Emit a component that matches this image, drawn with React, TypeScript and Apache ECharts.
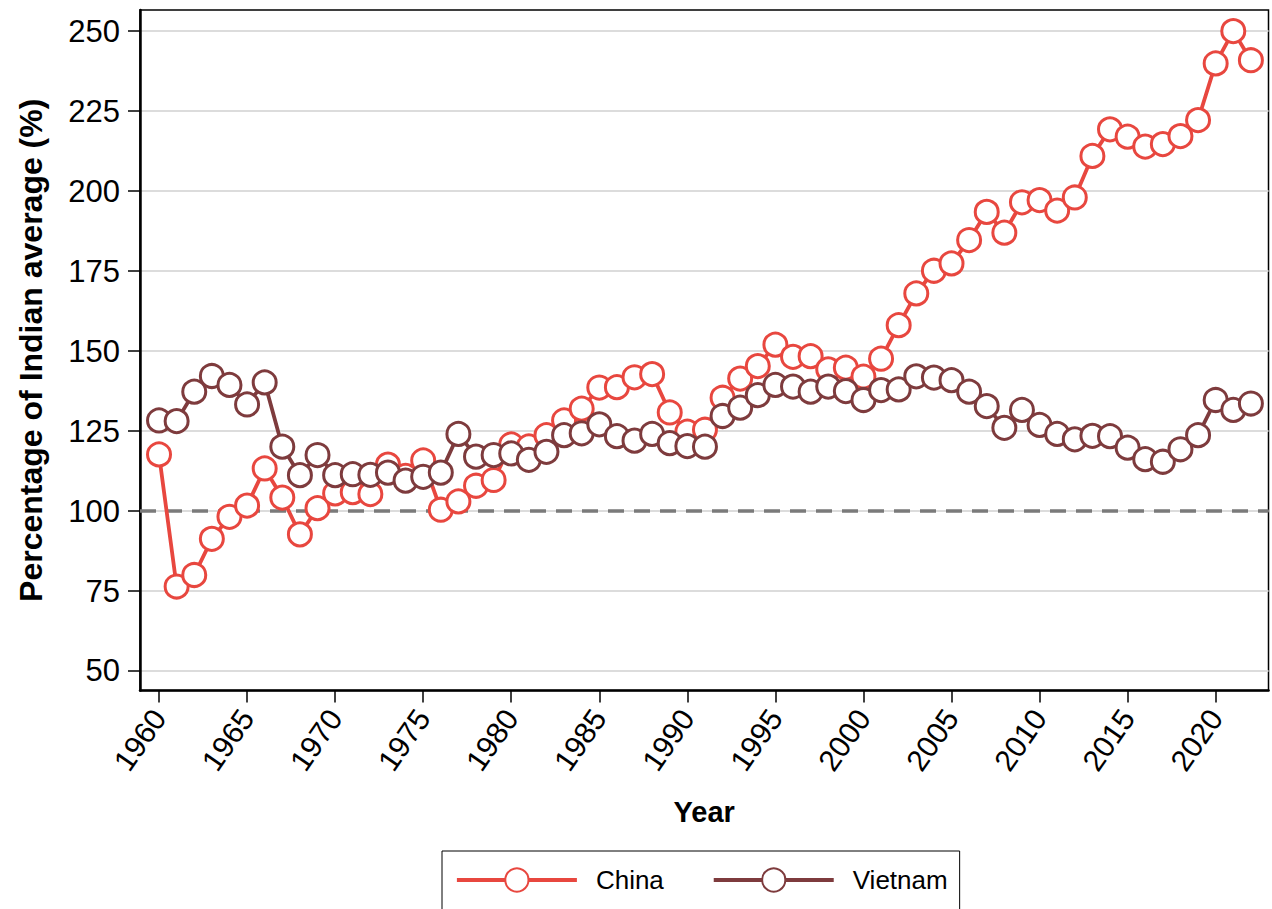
import React, { useEffect, useRef } from "react";
import * as echarts from "echarts";

const years = [
  1960, 1961, 1962, 1963, 1964, 1965, 1966, 1967, 1968, 1969,
  1970, 1971, 1972, 1973, 1974, 1975, 1976, 1977, 1978, 1979,
  1980, 1981, 1982, 1983, 1984, 1985, 1986, 1987, 1988, 1989,
  1990, 1991, 1992, 1993, 1994, 1995, 1996, 1997, 1998, 1999,
  2000, 2001, 2002, 2003, 2004, 2005, 2006, 2007, 2008, 2009,
  2010, 2011, 2012, 2013, 2014, 2015, 2016, 2017, 2018, 2019,
  2020, 2021, 2022,
];

const china = [
  117.7, 76.4, 80.0, 91.3, 98.2, 101.7, 113.3, 104.2, 92.7, 100.9,
  105.5, 105.9, 105.3, 114.5, 111.0, 115.8, 100.4, 103.0, 107.9, 109.7,
  120.8, 120.2, 123.7, 128.3, 132.0, 138.6, 138.7, 141.8, 142.8, 130.8,
  124.8, 125.4, 135.4, 141.4, 145.3, 152.0, 148.2, 148.4, 144.3, 144.8,
  142.0, 147.6, 158.1, 168.0, 175.1, 177.4, 184.7, 193.5, 187.0, 196.5,
  197.2, 193.9, 198.0, 211.0, 219.3, 217.0, 213.9, 214.7, 217.2, 222.2,
  239.9, 250.0, 240.9,
];

const vietnam = [
  128.3, 128.1, 137.3, 142.2, 139.4, 133.3, 140.2, 120.1, 111.2, 117.5,
  111.2, 111.5, 111.3, 112.0, 109.5, 110.7, 112.0, 124.1, 117.0, 117.5,
  118.0, 116.0, 118.5, 123.7, 124.3, 127.1, 123.4, 122.0, 124.1, 121.2,
  120.3, 120.1, 129.7, 132.3, 136.2, 139.4, 138.9, 137.3, 138.9, 137.5,
  134.7, 137.8, 138.0, 142.1, 141.7, 140.9, 137.3, 132.8, 126.0, 131.6,
  126.9, 124.1, 122.4, 123.5, 123.4, 119.8, 116.2, 115.4, 119.3, 123.7,
  134.7, 131.6, 133.6,
];

const xTicks = [1960, 1965, 1970, 1975, 1980, 1985, 1990, 1995, 2000, 2005, 2010, 2015, 2020];
const yTicks = [50, 75, 100, 125, 150, 175, 200, 225, 250];
const referenceLevel = 100;
const xRange = [1958.92, 2023.0];
const yRange = [43.9, 256.6];

const seriesNames = ["China", "Vietnam"];
const chinaColor = "#e8473f";
const vietnamColor = "#7e3b3d";

export default function App() {
  const ref = useRef<HTMLDivElement>(null);

  useEffect(() => {
    if (!ref.current) return;
    const chart = echarts.init(ref.current, null, { renderer: "svg" });
    const font = "'Liberation Sans', Arial, Helvetica, sans-serif";

    const makeSeries = (name: string, values: number[], color: string) => ({
      name,
      type: "line",
      data: years.map((y, i) => [y, values[i]]),
      symbol: "circle",
      symbolSize: 23,
      lineStyle: { color, width: 3.8 },
      itemStyle: { color: "#ffffff", borderColor: color, borderWidth: 3 },
      emphasis: { disabled: true },
    });

    chart.setOption({
      animation: false,
      backgroundColor: "#ffffff",
      textStyle: { fontFamily: font },
      grid: {
        left: 140,
        top: 10,
        right: 3.5,
        bottom: 218.5,
        show: true,
        borderColor: "#000000",
        borderWidth: 1.5,
        backgroundColor: "transparent",
      },
      xAxis: {
        type: "value",
        min: xRange[0],
        max: xRange[1],
        name: "Year",
        nameLocation: "middle",
        nameGap: 107,
        nameTextStyle: { fontSize: 29, fontWeight: "bold", color: "#000", fontFamily: font },
        axisLine: { show: true, onZero: false, lineStyle: { color: "#000", width: 2.5 } },
        axisTick: { show: true, length: 12, customValues: xTicks, lineStyle: { color: "#000", width: 1.5 } },
        axisLabel: {
          customValues: xTicks,
          rotate: 55,
          margin: 22,
          fontSize: 30,
          color: "#000",
          fontFamily: font,
          formatter: (v: number) => String(v),
        },
        splitLine: { show: false },
      },
      yAxis: {
        type: "value",
        min: yRange[0],
        max: yRange[1],
        name: "Percentage of Indian average (%)",
        nameLocation: "middle",
        nameGap: 93,
        nameTextStyle: { fontSize: 32, fontWeight: "bold", color: "#000", fontFamily: font },
        axisLine: { show: true, onZero: false, lineStyle: { color: "#000", width: 2.5 } },
        axisTick: { show: true, length: 12, customValues: yTicks, lineStyle: { color: "#000", width: 1.5 } },
        axisLabel: {
          customValues: yTicks,
          margin: 20,
          fontSize: 31,
          color: "#000",
          fontFamily: font,
          formatter: (v: number) => String(v),
        },
        splitLine: { show: true, lineStyle: { color: "#dcdcdc", width: 2 } },
      },
      legend: {
        data: seriesNames,
        left: 442,
        top: 851,
        orient: "horizontal",
        itemWidth: 120,
        itemHeight: 29,
        itemGap: 48,
        padding: [16, 12, 40, 13],
        borderColor: "#000",
        borderWidth: 1,
        backgroundColor: "#fff",
        selectedMode: false,
        lineStyle: { width: 3.8 },
        textStyle: { fontSize: 26, color: "#000", fontFamily: font, padding: [0, 0, 0, 14] },
      },
      series: [
        {
          name: "reference",
          type: "line",
          data: [
            [xRange[0], referenceLevel],
            [xRange[1], referenceLevel],
          ],
          symbol: "none",
          silent: true,
          lineStyle: { color: "#7a7a7a", width: 3.5, type: [16, 10] },
          emphasis: { disabled: true },
        },
        makeSeries(seriesNames[0], china, chinaColor),
        makeSeries(seriesNames[1], vietnam, vietnamColor),
      ],
    });

    return () => chart.dispose();
  }, []);

  return (
    <div
      ref={ref}
      style={{ position: "fixed", left: 0, top: 0, width: 1272, height: 909, background: "#fff" }}
    />
  );
}
